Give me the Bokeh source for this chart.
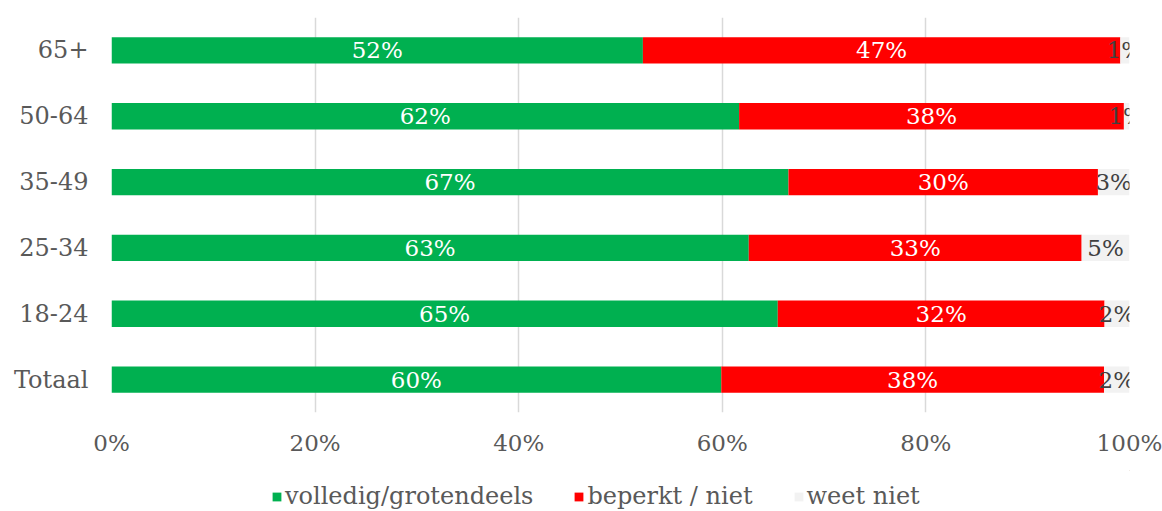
from bokeh.plotting import figure
from bokeh.layouts import column
from bokeh.models import ColumnDataSource, Legend, LegendItem, NumeralTickFormatter, FixedTicker, FactorRange
from bokeh.core.properties import value
from bokeh.embed import file_html
from bokeh.resources import INLINE

categories = ["Totaal", "18-24", "25-34", "35-49", "50-64", "65+"]
volledig = [0.599, 0.6545, 0.626, 0.665, 0.6165, 0.522]
beperkt = [0.376, 0.321, 0.327, 0.304, 0.378, 0.469]
weet_niet = [0.025, 0.0245, 0.047, 0.031, 0.0055, 0.009]
label_volledig = [60, 65, 63, 67, 62, 52]
label_beperkt = [38, 32, 33, 30, 38, 47]
label_weet = [2, 2, 5, 3, 1, 1]
series_names = ["volledig/grotendeels", "beperkt / niet", "weet niet"]
colors = ["#00B050", "#FF0000", "#F2F2F2"]
x_ticks = [0, 0.2, 0.4, 0.6, 0.8, 1.0]

FONT = "DejaVu Serif"

src = ColumnDataSource(dict(cat=categories, a=volledig, b=beperkt, c=weet_niet))

p = figure(y_range=FactorRange(*categories), x_range=(0, 1),
           frame_width=1018, frame_height=395,
           output_backend="svg", toolbar_location=None,
           min_border_left=111, min_border_top=17, min_border_right=33, min_border_bottom=58)
p.outline_line_color = None
p.background_fill_color = "white"

renderers = p.hbar_stack(["a", "b", "c"], y="cat", height=0.4, color=colors,
                         line_color=None, source=src)

# labels
a_mid, b_mid, c_mid = [], [], []
for va, vb, vc in zip(volledig, beperkt, weet_niet):
    a_mid.append(va / 2)
    b_mid.append(va + vb / 2)
    c_mid.append(va + vb + vc / 2)

lab_src = ColumnDataSource(dict(
    cat=categories,
    ax=a_mid, bx=b_mid, cx=c_mid,
    at=[f"{v}%" for v in label_volledig],
    bt=[f"{v}%" for v in label_beperkt],
    ct=[f"{v}%" for v in label_weet]))
for xcol, tcol, col in [("ax", "at", "white"), ("bx", "bt", "white"), ("cx", "ct", "#404040")]:
    p.text(x=xcol, y="cat", text=tcol, source=lab_src, text_align="center",
           text_baseline="middle", text_color=col, text_font=value(FONT),
           text_font_size="23px")

# axes
p.xaxis.ticker = FixedTicker(ticks=x_ticks)
p.xaxis.formatter = NumeralTickFormatter(format="0%")
for ax in (p.xaxis[0], p.yaxis[0]):
    ax.axis_line_color = None
    ax.major_tick_line_color = None
    ax.minor_tick_line_color = None
    ax.major_label_text_color = "#595959"
    ax.major_label_text_font = FONT
ax_x, ax_y = p.xaxis[0], p.yaxis[0]
ax_x.major_label_text_font_size = "23px"
ax_y.major_label_text_font_size = "24px"
ax_x.major_label_standoff = 11
ax_y.major_label_standoff = 17

p.xgrid.ticker = FixedTicker(ticks=x_ticks)
p.xgrid.grid_line_color = "#D9D9D9"
p.xgrid.grid_line_width = 1.5
p.ygrid.grid_line_color = None

# legend strip below the chart (its swatch renderers sit far outside its view)
lg = figure(width=1162, height=41, x_range=(0, 1), y_range=(0, 1),
            x_axis_type=None, y_axis_type=None, output_backend="svg",
            toolbar_location=None, min_border=0)
lg.outline_line_color = None
lg.xgrid.visible = False
lg.ygrid.visible = False
swatches = [lg.hbar(y=[10], left=[50], right=[51], height=0.5, color=c, line_color=None)
            for c in colors]

legend = Legend(items=[LegendItem(label=n, renderers=[r]) for n, r in zip(series_names, swatches)],
                orientation="horizontal", location=(160, 1),
                glyph_width=11, glyph_height=11, label_text_font=FONT,
                label_text_font_size="24px", label_text_color="#595959",
                label_standoff=3, spacing=40, padding=0, margin=0,
                border_line_color=None, background_fill_alpha=0)
lg.add_layout(legend, "center")

layout = column(p, lg, spacing=0)
open("out.html", "w").write(file_html(layout, INLINE))
